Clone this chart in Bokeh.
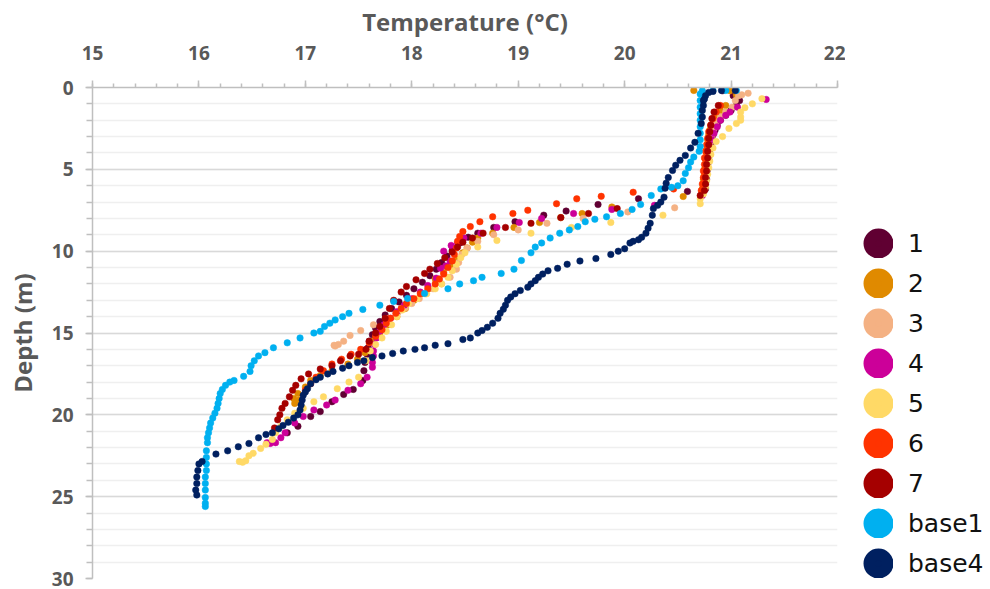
from bokeh.plotting import figure
from bokeh.layouts import row
from bokeh.models import Range1d, SingleIntervalTicker, Legend, LegendItem, ColumnDataSource
from bokeh.embed import file_html
from bokeh.resources import INLINE

# ---------------- data (temperature °C, depth m) ----------------
t1 = [20.92, 21.02, 21.08, 21.05, 21.0, 20.95, 20.9, 20.87, 20.85, 20.83, 20.82, 20.81, 20.8, 20.8, 20.79, 20.78, 20.78,
      20.77, 20.77, 20.76, 20.76, 20.59, 20.13, 19.75, 19.45, 19.24, 18.97, 18.77, 18.62, 18.53, 18.45, 18.38, 18.33,
      18.28, 18.23, 18.17, 18.1, 18.02, 17.95, 17.88, 17.81, 17.75, 17.7, 17.66, 17.63, 17.6, 17.59, 17.58, 17.56,
      17.55, 17.54, 17.45, 17.36, 17.25, 17.14, 17.05, 16.93, 16.83]
d1 = [0.2, 0.5, 0.8, 1.1, 1.4, 1.7, 2.0, 2.3, 2.6, 2.9, 3.2, 3.5, 3.8, 4.1, 4.4, 4.7, 5.0,
      5.3, 5.6, 5.9, 6.2, 6.35, 6.8, 7.15, 7.55, 7.8, 8.2, 8.55, 8.9, 9.15, 9.5, 9.95, 10.3,
      10.7, 11.1, 11.5, 11.9, 12.3, 12.7, 13.1, 13.5, 13.9, 14.3, 14.7, 15.1, 15.5, 15.9, 16.3, 16.8,
      17.3, 17.9, 18.45, 18.75, 19.2, 19.8, 20.1, 20.7, 21.1]

t2 = [20.65, 20.99, 21.05, 20.95, 20.9, 20.86, 20.83, 20.81, 20.8, 20.79, 20.78, 20.78, 20.77, 20.77, 20.76, 20.76,
      20.75, 20.75, 20.74, 20.74, 20.73, 20.55, 19.88, 19.6, 19.4, 19.2, 18.96, 18.76, 18.62, 18.57, 18.52, 18.48,
      18.42, 18.36, 18.3, 18.22, 18.16, 18.09, 18.02, 17.94, 17.86, 17.78, 17.7, 17.63, 17.56, 17.49, 17.4, 17.25,
      17.14, 17.05, 17.0, 16.93, 16.89, 16.9, 16.94]
d2 = [0.18, 0.2, 0.45, 1.1, 1.4, 1.7, 2.0, 2.3, 2.6, 2.9, 3.2, 3.5, 3.8, 4.1, 4.4, 4.7,
      5.0, 5.3, 5.6, 5.9, 6.2, 6.66, 7.3, 7.7, 7.95, 8.25, 8.55, 8.9, 9.2, 9.45, 9.8, 10.1,
      10.5, 10.9, 11.3, 11.7, 12.3, 12.6, 13.0, 13.5, 14.0, 14.5, 15.0, 15.5, 16.2, 16.6, 16.9, 17.3,
      17.6, 17.9, 18.3, 18.7, 19.0, 19.3, 19.1]

t3 = [21.16, 21.1, 21.07, 21.04, 21.01, 20.95, 20.9, 20.86, 20.84, 20.82, 20.8, 20.79, 20.78, 20.77, 20.76, 20.75,
      20.72, 20.47, 20.03, 19.61, 19.27, 19.0, 18.77, 18.62, 18.52, 18.47, 18.44, 18.42, 18.36, 18.28, 18.2, 18.13,
      18.07, 18.0, 17.94, 17.87, 17.78, 17.64, 17.52, 17.42, 17.36, 17.31, 17.28, 17.27]
d3 = [0.35, 0.45, 0.5, 0.8, 1.2, 1.5, 1.8, 2.1, 2.5, 3.0, 3.5, 4.0, 4.5, 5.0, 5.5, 6.0,
      6.6, 7.35, 7.6, 8.0, 8.3, 8.7, 9.0, 9.4, 9.8, 10.2, 10.7, 11.1, 11.6, 12.0, 12.3, 12.6,
      12.9, 13.2, 13.45, 13.75, 14.1, 14.5, 14.85, 15.15, 15.5, 15.7, 15.8, 15.75]

t4 = [21.33, 21.06, 20.99, 20.95, 20.9, 20.87, 20.84, 20.82, 20.8, 20.79, 20.78, 20.77, 20.77, 20.76, 20.75, 20.73,
      20.28, 19.88, 19.52, 19.22, 19.01, 18.8, 18.65, 18.49, 18.43, 18.37, 18.3, 18.36, 18.32, 18.27, 18.23, 18.15,
      18.08, 18.0, 17.93, 17.86, 17.8, 17.74, 17.7, 17.67, 17.65, 17.64, 17.64, 17.63, 17.63, 17.58, 17.52, 17.4,
      17.28, 17.2, 17.08, 16.98, 16.9, 16.81, 16.77, 16.72, 16.67, 16.64]
d4 = [0.73, 1.2, 1.5, 1.7, 2.0, 2.4, 2.8, 3.2, 3.6, 4.0, 4.4, 4.8, 5.2, 5.6, 6.0, 6.6,
      7.2, 7.45, 7.7, 8.0, 8.25, 8.55, 8.9, 9.2, 9.5, 9.65, 10.0, 10.6, 10.9, 11.05, 11.65, 12.1,
      12.5, 12.9, 13.3, 13.7, 14.1, 14.5, 14.9, 15.3, 15.7, 16.1, 16.4, 16.8, 17.1, 17.7, 18.1, 18.5,
      19.1, 19.4, 19.7, 20.1, 20.5, 21.1, 21.4, 21.7, 21.75, 21.7]

t5 = [21.29, 21.2, 21.13, 21.09, 21.09, 21.09, 21.05, 20.98, 20.92, 20.86, 20.83, 20.81, 20.8, 20.79, 20.78, 20.77,
      20.76, 20.74, 20.71, 20.71, 20.36, 19.87, 19.5, 19.12, 18.8, 18.62, 18.5, 18.46, 18.42, 18.38, 18.34, 18.28,
      18.22, 18.14, 18.05, 17.97, 17.91, 17.86, 17.81, 17.76, 17.72, 17.66, 17.61, 17.57, 17.5, 17.41, 17.3, 17.17,
      17.08, 16.98, 16.9, 16.83, 16.77, 16.72, 16.69, 16.63, 16.58, 16.51, 16.47, 16.44, 16.41, 16.38]
d5 = [0.68, 1.0, 1.23, 1.5, 1.8, 2.0, 2.2, 2.5, 3.0, 3.3, 3.7, 4.1, 4.5, 4.9, 5.3, 5.7,
      6.1, 6.5, 6.8, 7.1, 7.8, 8.25, 8.55, 8.9, 9.35, 9.75, 10.1, 10.4, 10.8, 11.2, 11.6, 12.0,
      12.3, 12.6, 12.9, 13.2, 13.6, 14.0, 14.5, 14.9, 15.3, 15.7, 16.1, 16.7, 17.7, 18.0, 18.4, 18.9,
      19.2, 19.6, 19.9, 20.3, 20.7, 21.1, 21.5, 21.8, 22.05, 22.35, 22.5, 22.8, 22.9, 22.85]

t6 = [20.9, 20.86, 20.83, 20.81, 20.79, 20.78, 20.77, 20.76, 20.75, 20.75, 20.74, 20.74, 20.73, 20.72, 20.46, 20.08,
      19.78, 19.55, 19.36, 19.09, 18.95, 18.76, 18.64, 18.55, 18.48, 18.45, 18.43, 18.42, 18.4, 18.38, 18.34, 18.3,
      18.26, 18.22, 18.15, 18.08, 18.02, 17.95, 17.9, 17.85, 17.8, 17.76, 17.72, 17.66, 17.6, 17.52, 17.43, 17.34,
      17.25, 17.17, 17.1, 17.05, 17.0]
d6 = [1.1, 1.5, 1.9, 2.3, 2.7, 3.1, 3.5, 3.9, 4.3, 4.7, 5.1, 5.5, 5.9, 6.3, 6.2, 6.4,
      6.65, 6.8, 7.1, 7.5, 7.7, 7.9, 8.2, 8.5, 8.8, 9.1, 9.4, 9.8, 10.2, 10.6, 11.0, 11.4,
      11.7, 12.0, 12.3, 12.6, 12.9, 13.2, 13.5, 13.8, 14.1, 14.4, 14.8, 15.2, 15.6, 16.0, 16.3, 16.6,
      16.9, 17.3, 17.7, 18.1, 18.5]

t7 = [20.88, 20.84, 20.82, 20.81, 20.8, 20.79, 20.79, 20.78, 20.78, 20.77, 20.77, 20.76, 20.76, 20.75, 20.71, 19.93,
      19.66, 19.4, 19.12, 18.88, 18.67, 18.57, 18.48, 18.43, 18.38, 18.31, 18.24, 18.17, 18.12, 18.04, 17.95, 17.9,
      17.83, 17.79, 17.75, 17.7, 17.66, 17.6, 17.57, 17.5, 17.42, 17.33, 17.25, 17.14, 17.03, 16.96, 16.91, 16.88,
      16.85, 16.81, 16.78, 16.76, 16.74, 16.71]
d7 = [1.1, 1.5, 1.9, 2.3, 2.7, 3.1, 3.5, 3.9, 4.3, 4.7, 5.1, 5.5, 5.9, 6.3, 6.6, 7.4,
      7.7, 7.95, 8.3, 8.55, 8.9, 9.2, 9.45, 9.75, 10.05, 10.4, 10.75, 11.1, 11.36, 11.75, 12.16, 12.5,
      13.0, 13.5, 14.1, 14.6, 15.0, 15.5, 16.0, 16.3, 16.4, 16.7, 17.0, 17.2, 17.5, 17.8, 18.2, 18.5,
      18.9, 19.3, 19.6, 20.0, 20.3, 20.8]

tb1 = [21.05, 20.95, 20.83, 20.73, 20.71, 20.71, 20.71, 20.71, 20.71, 20.71, 20.71, 20.71, 20.71, 20.7, 20.65, 20.62,
       20.6, 20.57, 20.55, 20.5, 20.44, 20.34, 20.25, 20.15, 20.07, 19.96, 19.83, 19.72, 19.63, 19.56, 19.48, 19.39,
       19.3, 19.22, 19.16, 19.12, 19.03, 18.96, 18.84, 18.66, 18.58, 18.45, 18.34, 18.12, 17.96, 17.83, 17.7, 17.54,
       17.41, 17.35, 17.28, 17.23, 17.18, 17.14, 17.08, 16.95, 16.83, 16.7, 16.62, 16.56, 16.52, 16.49, 16.48, 16.42,
       16.33, 16.29, 16.25, 16.22, 16.2, 16.19, 16.18, 16.17, 16.15, 16.13, 16.11, 16.1, 16.09, 16.08, 16.08, 16.07,
       16.07, 16.07, 16.07, 16.06, 16.06, 16.06, 16.06, 16.06, 16.06]
db1 = [0.18, 0.18, 0.18, 0.2, 0.4, 0.8, 1.2, 1.6, 2.0, 2.4, 2.8, 3.2, 3.6, 3.9, 4.25, 4.55,
       4.9, 5.25, 5.7, 6.0, 6.1, 6.2, 6.6, 7.15, 7.45, 7.7, 7.9, 8.05, 8.2, 8.5, 8.7, 8.9,
       9.2, 9.5, 9.75, 10.1, 10.57, 11.1, 11.36, 11.6, 11.8, 12.0, 12.3, 12.58, 12.89, 13.07, 13.3, 13.56,
       13.8, 14.0, 14.2, 14.4, 14.6, 14.9, 15.0, 15.3, 15.6, 15.9, 16.2, 16.4, 16.7, 17.0, 17.35, 17.65,
       17.9, 18.0, 18.2, 18.45, 18.7, 19.0, 19.3, 19.6, 19.9, 20.2, 20.5, 20.8, 21.1, 21.4, 21.7, 22.2,
       22.6, 23.0, 23.4, 23.8, 24.2, 24.6, 25.05, 25.4, 25.6]

tb4 = [21.04, 20.91, 20.83, 20.79, 20.76, 20.75, 20.74, 20.74, 20.73, 20.73, 20.72, 20.69, 20.66, 20.62, 20.57, 20.52,
       20.48, 20.45, 20.41, 20.39, 20.38, 20.37, 20.34, 20.31, 20.27, 20.26, 20.24, 20.22, 20.2, 20.16, 20.13, 20.08,
       20.05, 20.0, 19.94, 19.87, 19.73, 19.58, 19.46, 19.37, 19.28, 19.23, 19.19, 19.16, 19.12, 19.09, 19.02, 18.97,
       18.93, 18.9, 18.88, 18.86, 18.83, 18.81, 18.76, 18.71, 18.66, 18.62, 18.55, 18.48, 18.34, 18.22, 18.12, 18.03,
       17.92, 17.82, 17.72, 17.63, 17.55, 17.49, 17.41, 17.35, 17.26, 17.21, 17.14, 17.1, 17.05, 17.02, 17.0, 16.98,
       16.97, 16.96, 16.95, 16.93, 16.89, 16.84, 16.79, 16.75, 16.69, 16.63, 16.56, 16.47, 16.37, 16.27, 16.16, 16.03,
       16.0, 15.99, 15.98, 15.98, 15.97, 15.98]
db4 = [0.18, 0.18, 0.24, 0.3, 0.5, 0.7, 0.8, 1.1, 1.4, 1.8, 2.2, 2.8, 3.35, 3.7, 4.15, 4.45,
       4.75, 5.07, 5.5, 5.85, 6.15, 6.7, 7.0, 7.2, 7.4, 7.8, 8.3, 8.6, 8.9, 9.15, 9.3, 9.4,
       9.5, 9.85, 10.0, 10.2, 10.45, 10.6, 10.8, 11.05, 11.2, 11.4, 11.6, 11.8, 12.0, 12.2, 12.4, 12.6,
       12.8, 13.0, 13.3, 13.55, 13.8, 14.1, 14.4, 14.65, 14.85, 15.0, 15.3, 15.4, 15.65, 15.75, 15.9, 16.0,
       16.1, 16.25, 16.4, 16.5, 16.7, 16.8, 17.0, 17.15, 17.35, 17.5, 17.7, 17.85, 18.1, 18.4, 18.6, 18.8,
       19.1, 19.4, 19.7, 20.0, 20.2, 20.45, 20.65, 20.85, 21.1, 21.2, 21.4, 21.75, 21.95, 22.2, 22.4, 22.85,
       23.0, 23.4, 23.8, 24.2, 24.6, 24.9]

series_names = ["1", "2", "3", "4", "5", "6", "7", "base1", "base4"]
series_colors = ["#600032", "#E08A00", "#F4B183", "#CC0099", "#FFD966", "#FF3300", "#A50000", "#00B0F0", "#002060"]
series_t = [t1, t2, t3, t4, t5, t6, t7, tb1, tb4]
series_d = [d1, d2, d3, d4, d5, d6, d7, db1, db4]

x_ticks_interval = 1
y_ticks_interval = 5

GRAY_TXT = "#595959"
AXIS_COL = "#BFBFBF"

MAIN_W = 845
p = figure(width=MAIN_W, height=589, x_range=Range1d(15, 22), y_range=Range1d(30, 0),
           x_axis_location="above", output_backend="svg", toolbar_location=None,
           min_border_left=92, min_border_right=8, min_border_top=87, min_border_bottom=11)
p.outline_line_color = None
p.background_fill_color = "white"
p.border_fill_color = "white"

xt = SingleIntervalTicker(interval=x_ticks_interval, num_minor_ticks=5)
yt = SingleIntervalTicker(interval=y_ticks_interval, num_minor_ticks=5)

ax = p.xaxis[0]
ax.ticker = xt
ax.axis_label = "Temperature (°C)"
ay = p.yaxis[0]
ay.ticker = yt
ay.axis_label = "Depth (m)"

for a in (ax, ay):
    a.axis_line_color = AXIS_COL
    a.axis_line_width = 1.5
    a.major_tick_line_color = AXIS_COL
    a.minor_tick_line_color = AXIS_COL
    a.major_tick_line_width = 1.5
    a.minor_tick_line_width = 1.5
    a.major_tick_in = 0
    a.minor_tick_in = 0
    a.major_tick_out = 7
    a.major_label_text_font = "Open Sans"
    a.major_label_text_font_style = "bold"
    a.major_label_text_font_size = "19px"
    a.major_label_text_color = GRAY_TXT
    a.axis_label_text_font = "Open Sans"
    a.axis_label_text_font_style = "bold"
    a.axis_label_text_font_size = "24px"
    a.axis_label_text_color = GRAY_TXT

ax.minor_tick_out = 4
ax.major_label_standoff = 21
ax.axis_label_standoff = 5
ay.minor_tick_out = 6
ay.major_label_standoff = 12
ay.axis_label_standoff = 10

p.xgrid.visible = False
p.ygrid.ticker = yt
p.ygrid.grid_line_color = "#D9D9D9"
p.ygrid.grid_line_width = 1.5
p.ygrid.minor_grid_line_color = "#EFEFEF"
p.ygrid.minor_grid_line_width = 1.5

for name, col, tt, dd in zip(series_names, series_colors, series_t, series_d):
    src = ColumnDataSource(data=dict(t=tt, d=dd))
    p.scatter(x="t", y="d", source=src, size=6.5, fill_color=col, line_color=col, line_width=0.5)

# ---- legend panel (separate narrow figure so that it is not clipped) ----
# The proxies reuse each series' data; the panel's ranges keep them out of view.
lg = figure(width=990 - MAIN_W, height=589, x_range=Range1d(0, 1), y_range=Range1d(0, 1),
            output_backend="svg", toolbar_location=None,
            min_border_left=0, min_border_right=0, min_border_top=0, min_border_bottom=0)
lg.axis.visible = False
lg.grid.visible = False
lg.outline_line_color = None
lg.background_fill_color = "white"
lg.border_fill_color = "white"

items = []
for name, col, tt, dd in zip(series_names, series_colors, series_t, series_d):
    r = lg.scatter(x=tt, y=dd, size=12, fill_color=col, line_color=col, line_width=18)
    items.append(LegendItem(label=name, renderers=[r]))

legend = Legend(items=items, location=(18, 0), glyph_width=30, glyph_height=30, spacing=10,
                padding=0, margin=0, border_line_color=None, background_fill_alpha=0,
                label_text_font="DejaVu Sans", label_text_font_size="25px", label_standoff=15,
                label_text_color="#111111")
lg.add_layout(legend)

layout = row(p, lg, spacing=0)
open("out.html", "w").write(file_html(layout, INLINE))
